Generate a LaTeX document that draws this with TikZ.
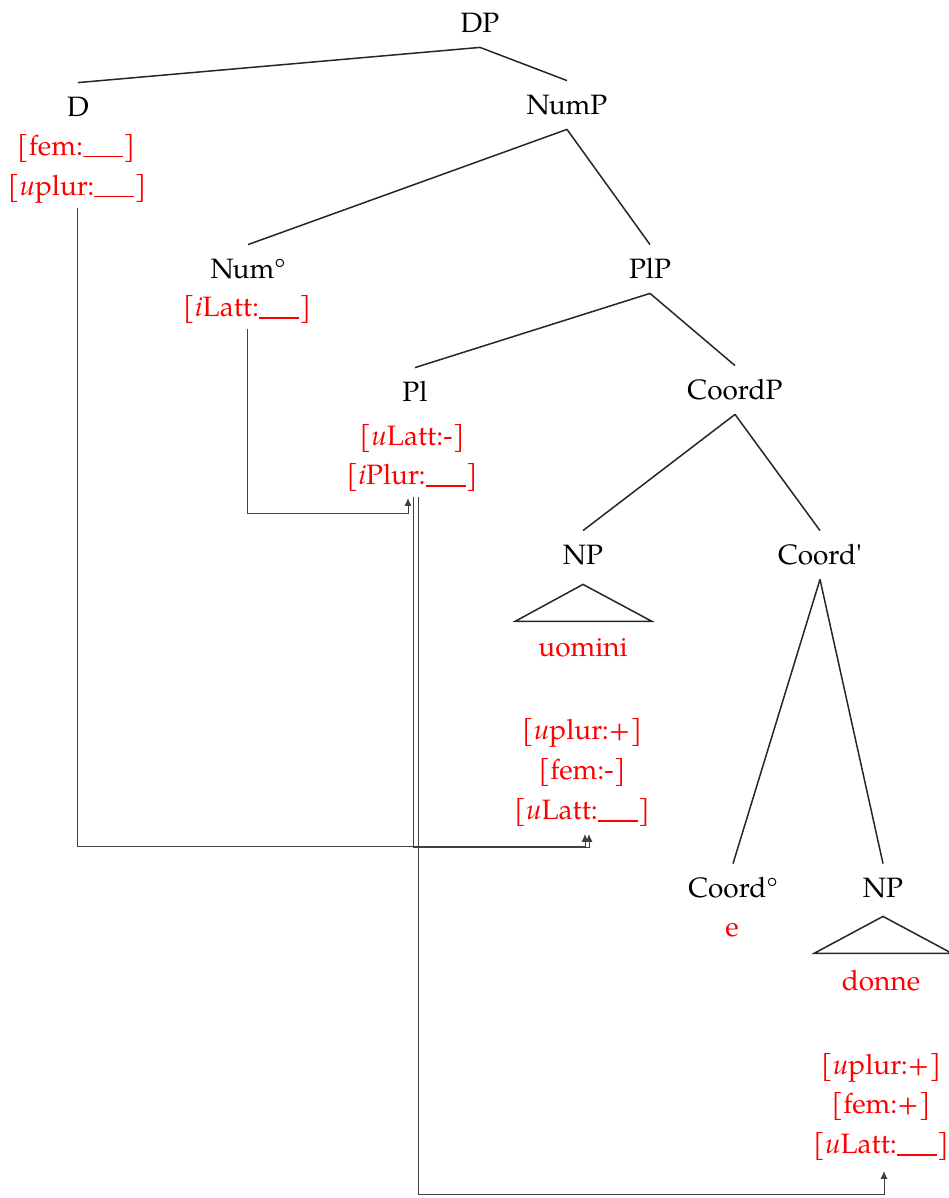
\documentclass[tikz,border=0pt]{standalone}
\usepackage{fontspec}
\setmainfont{TeX Gyre Pagella}
\usetikzlibrary{arrows.meta}
\newcommand\featblank{\rule[-1pt]{20pt}{0.6pt}}
\begin{document}
\begin{tikzpicture}[x=0.5pt,y=-0.5pt,
  every node/.style={font=\fontsize{14}{17}\selectfont},
  cat/.style={inner sep=0pt, minimum height=24pt, text height=9.5pt, text depth=0pt},
  feat/.style={text=red, inner sep=0pt, text height=9.5pt, text depth=0pt},
  edge/.style={line width=0.75pt, black!85},
  conn/.style={line width=0.5pt, black!75},
  arr/.style={conn, -{Latex[length=4pt,width=3.5pt]}}
]
\useasboundingbox (0,0) rectangle (948,1198);
% category nodes
\node[cat] (DP) at (480,23) {DP};
\node[cat] (D) at (78,107) {D};
\node[cat] (NumP) at (567,105) {NumP};
\node[cat] (Num) at (248,269) {Num°};
\node[cat] (PlP) at (650,269) {PlP};
\node[cat] (Pl) at (415,392) {Pl};
\node[cat] (CoordP) at (735,390) {CoordP};
\node[cat] (NPa) at (583,555) {NP};
\node[cat] (Coordbar) at (820,555) {Coord\textquotesingle};
\node[cat] (Coordo) at (733,888) {Coord°};
\node[cat] (NPb) at (883,888) {NP};
% feature nodes
\node[feat] (Dfem) at (76,146) {[fem:\featblank]};
\node[feat] (Dplur) at (77,186) {[\textit{u}plur:\featblank]};
\node[feat] (NumLatt) at (247,307) {[\textit{i}Latt:\featblank]};
\node[feat] (PlLatt) at (412,436) {[\textit{u}Latt:-]};
\node[feat] (PlPlur) at (412,475) {[\textit{i}Plur:\featblank]};
\node[feat] (uomini) at (583,647) {uomini};
\node[feat] (Aplur) at (582,730) {[\textit{u}plur:+]};
\node[feat] (Afem) at (582,770) {[fem:-]};
\node[feat] (ALatt) at (582,810) {[\textit{u}Latt:\featblank]};
\node[feat] (e) at (732,927) {e};
\node[feat] (donne) at (881,981) {donne};
\node[feat] (Bplur) at (881,1065) {[\textit{u}plur:+]};
\node[feat] (Bfem) at (881,1104) {[fem:+]};
\node[feat] (BLatt) at (881,1144) {[\textit{u}Latt:\featblank]};
% tree edges
\draw[edge] (DP.south) -- (D.north);
\draw[edge] (DP.south) -- (NumP.north);
\draw[edge] (NumP.south) -- (Num.north);
\draw[edge] (NumP.south) -- (PlP.north);
\draw[edge] (PlP.south) -- (Pl.north);
\draw[edge] (PlP.south) -- (CoordP.north);
\draw[edge] (CoordP.south) -- (NPa.north);
\draw[edge] (CoordP.south) -- (Coordbar.north);
\draw[edge] (Coordbar.south) -- (Coordo.north);
\draw[edge] (Coordbar.south) -- (NPb.north);
% triangles
\draw[edge] ([yshift=-2.5pt]NPa.south) -- ++(-68,37) -- ++(137,0) -- cycle;
\draw[edge] ([yshift=-2pt]NPb.south) -- ++(-69,37) -- ++(138,0) -- cycle;
% arrow targets
\coordinate (aNum) at ([xshift=-2pt,yshift=-6.5pt]PlPlur.south);
\coordinate (aD) at ([xshift=1.5pt,yshift=-7pt]ALatt.south);
\coordinate (aPl) at ([xshift=3.5pt,yshift=-7pt]ALatt.south);
\coordinate (aB) at ([xshift=1.5pt,yshift=-8.5pt]BLatt.south);
% agreement connectors
\draw[arr] ([yshift=-6pt]Dplur.south) |- ([yshift=-6.5pt]aD) -- (aD);
\draw[arr] ([yshift=-6pt]NumLatt.south) |- ([yshift=-8pt]aNum) -- (aNum);
\draw[arr] ([xshift=0.5pt,yshift=-6pt]PlPlur.south) |- ([yshift=-7pt]aPl) -- (aPl);
\draw[arr] ([xshift=3pt,yshift=-6pt]PlPlur.south) |- ([yshift=-12pt]aB) -- (aB);
\end{tikzpicture}
\end{document}
